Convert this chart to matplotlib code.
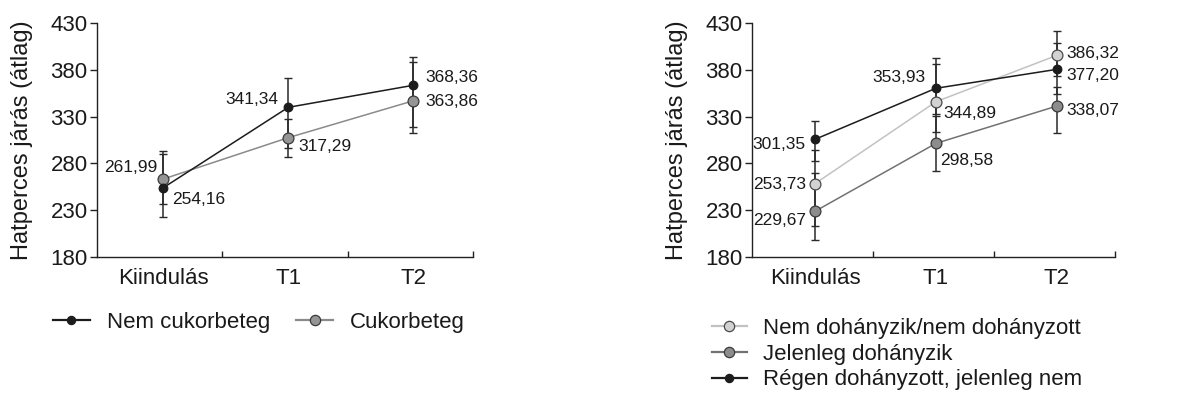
import matplotlib
matplotlib.use("Agg")
import matplotlib.pyplot as plt
from matplotlib.ticker import FixedLocator
from matplotlib.lines import Line2D

plt.rcParams['font.family'] = ['Liberation Sans', 'DejaVu Sans']

# ---------------- data ----------------
categories = ['Kiindulás', 'T1', 'T2']
yticks = [180, 230, 280, 330, 380, 430]
ylabel = 'Hatperces járás (átlag)'

# Left chart
nem_cukor_name = 'Nem cukorbeteg'
nem_cukor_mean = [253.9, 340.0, 363.6]
nem_cukor_low = [222.1, 296.1, 319.2]
nem_cukor_high = [290.0, 371.7, 394.2]
nem_cukor_labels = ['254,16', '341,34', '368,36']

cukor_name = 'Cukorbeteg'
cukor_mean = [263.2, 307.5, 347.0]
cukor_low = [236.4, 287.1, 312.8]
cukor_high = [293.6, 327.5, 388.9]
cukor_labels = ['261,99', '317,29', '363,86']

# Right chart
nemdoh_name = 'Nem dohányzik/nem dohányzott'
nemdoh_mean = [258.2, 346.0, 395.7]
nemdoh_low = [213.1, 313.2, 373.5]
nemdoh_high = [294.3, 386.1, 422.1]
nemdoh_labels = ['253,73', '344,89', '386,32']

jelen_name = 'Jelenleg dohányzik'
jelen_mean = [228.6, 301.4, 341.4]
jelen_low = [197.9, 272.1, 312.1]
jelen_high = [270.0, 330.7, 361.4]
jelen_labels = ['229,67', '298,58', '338,07']

regen_name = 'Régen dohányzott, jelenleg nem'
regen_mean = [305.7, 360.4, 380.7]
regen_low = [282.8, 332.5, 354.3]
regen_high = [325.6, 392.5, 408.6]
regen_labels = ['301,35', '353,93', '377,20']

# ---------------- styles ----------------
BLACK = dict(color='#1c1c1c', mfc='#1c1c1c', mec='#1c1c1c', ms=6.2)
MIDGRAY = dict(color='#8a8a8a', mfc='#959595', mec='#3a3a3a', ms=7.8)
LIGHT = dict(color='#c2c2c2', mfc='#d2d2d2', mec='#4a4a4a', ms=7.8)
DARK = dict(color='#727272', mfc='#8c8c8c', mec='#3a3a3a', ms=7.8)

fig = plt.figure(figsize=(11.79, 3.94), dpi=100)
W, H = 1179, 394


def make_axes(x0, x1, y0=23.3, y1=256.7):
    return fig.add_axes([x0 / W, 1 - y1 / H, (x1 - x0) / W, (y1 - y0) / H])


def style_axes(ax, xlim, seps):
    ax.set_ylim(180, 430)
    ax.set_xlim(*xlim)
    ax.set_yticks(yticks)
    ax.set_xticks(range(len(categories)))
    ax.set_xticklabels(categories)
    ax.xaxis.set_minor_locator(FixedLocator(seps))
    for s in ['top', 'right']:
        ax.spines[s].set_visible(False)
    for s in ['left', 'bottom']:
        ax.spines[s].set_linewidth(1.0)
        ax.spines[s].set_color('#222222')
    ax.tick_params(axis='y', direction='out', length=5, width=1.0,
                   labelsize=16, pad=1.5, colors='#222222', labelcolor='#1a1a1a')
    ax.tick_params(axis='x', which='major', length=0, labelsize=16, pad=8,
                   labelcolor='#1a1a1a')
    ax.tick_params(axis='x', which='minor', direction='in', length=4.5,
                   width=1.0, colors='#222222')
    ax.set_ylabel(ylabel, fontsize=17, color='#1a1a1a', labelpad=6)


def series(ax, mean, low, high, labels, st, offsets, zl=3):
    x = list(range(len(mean)))
    yerr = [[m - l for m, l in zip(mean, low)], [h - m for m, h in zip(mean, high)]]
    ax.errorbar(x, mean, yerr=yerr, fmt='none', ecolor='#2a2a2a',
                elinewidth=1.1, capsize=3, capthick=1.0, zorder=2)
    ax.plot(x, mean, '-o', color=st['color'], lw=1.1, ms=st['ms'],
            mfc=st['mfc'], mec=st['mec'], mew=0.9, zorder=zl)
    for xi, yi, lab, (dx, dy, ha) in zip(x, mean, labels, offsets):
        ax.annotate(lab, (xi, yi), xytext=(dx, dy), textcoords='offset points',
                    ha=ha, va='center', fontsize=12.5, color='#1a1a1a', zorder=5)


# ---------------- left chart ----------------
axL = make_axes(96.7, 473.3)
style_axes(axL, (-0.533, 2.48), [0.472, 1.475, 2.48])
series(axL, cukor_mean, cukor_low, cukor_high, cukor_labels, MIDGRAY,
       [(-4, 8, 'right'), (7, -6.5, 'left'), (8.4, -0.7, 'left')], zl=3)
series(axL, nem_cukor_mean, nem_cukor_low, nem_cukor_high, nem_cukor_labels, BLACK,
       [(6, -8.4, 'left'), (-7.5, 5.3, 'right'), (8.4, 5.5, 'left')], zl=4)
axL.yaxis.set_label_coords(-(96.7 - 32.7) / 376.6, 0.5)

# ---------------- right chart ----------------
axR = make_axes(751.7, 1115)
style_axes(axR, (-0.523, 2.48), [0.48, 1.48, 2.48])
series(axR, nemdoh_mean, nemdoh_low, nemdoh_high, nemdoh_labels, LIGHT,
       [(-6.5, -0.4, 'right'), (5.5, -8.4, 'left'), (6.7, 1.4, 'left')], zl=3)
series(axR, jelen_mean, jelen_low, jelen_high, jelen_labels, DARK,
       [(-6.5, -6.8, 'right'), (3, -12, 'left'), (6.7, -2.9, 'left')], zl=3)
series(axR, regen_mean, regen_low, regen_high, regen_labels, BLACK,
       [(-6.5, -3.4, 'right'), (-7.7, 7.9, 'right'), (6.7, -4.1, 'left')], zl=4)
axR.yaxis.set_label_coords(-(751.7 - 687.7) / 363.3, 0.5)


# ---------------- legends ----------------
def handle(st, name):
    return Line2D([], [], color=st['color'], lw=1.6, marker='o', ms=st['ms'] * 0.95,
                  mfc=st['mfc'], mec=st['mec'], mew=0.9, label=name)


legL = fig.legend(handles=[handle(BLACK, nem_cukor_name), handle(MIDGRAY, cukor_name)],
                  loc='center left', bbox_to_anchor=(53 / W, 1 - 322.7 / H),
                  ncol=2, frameon=False, fontsize=16, handlelength=1.66,
                  handletextpad=0.75, columnspacing=1.2, borderpad=0,
                  borderaxespad=0)
legR = fig.legend(handles=[handle(LIGHT, nemdoh_name), handle(DARK, jelen_name),
                           handle(BLACK, regen_name)],
                  loc='center left', bbox_to_anchor=(711.7 / W, 1 - 354.2 / H),
                  ncol=1, frameon=False, fontsize=16, handlelength=1.58,
                  handletextpad=0.75, labelspacing=0.21, borderpad=0,
                  borderaxespad=0)
for leg in (legL, legR):
    for t in leg.get_texts():
        t.set_color('#1a1a1a')

fig.savefig('out.png', dpi=100)
